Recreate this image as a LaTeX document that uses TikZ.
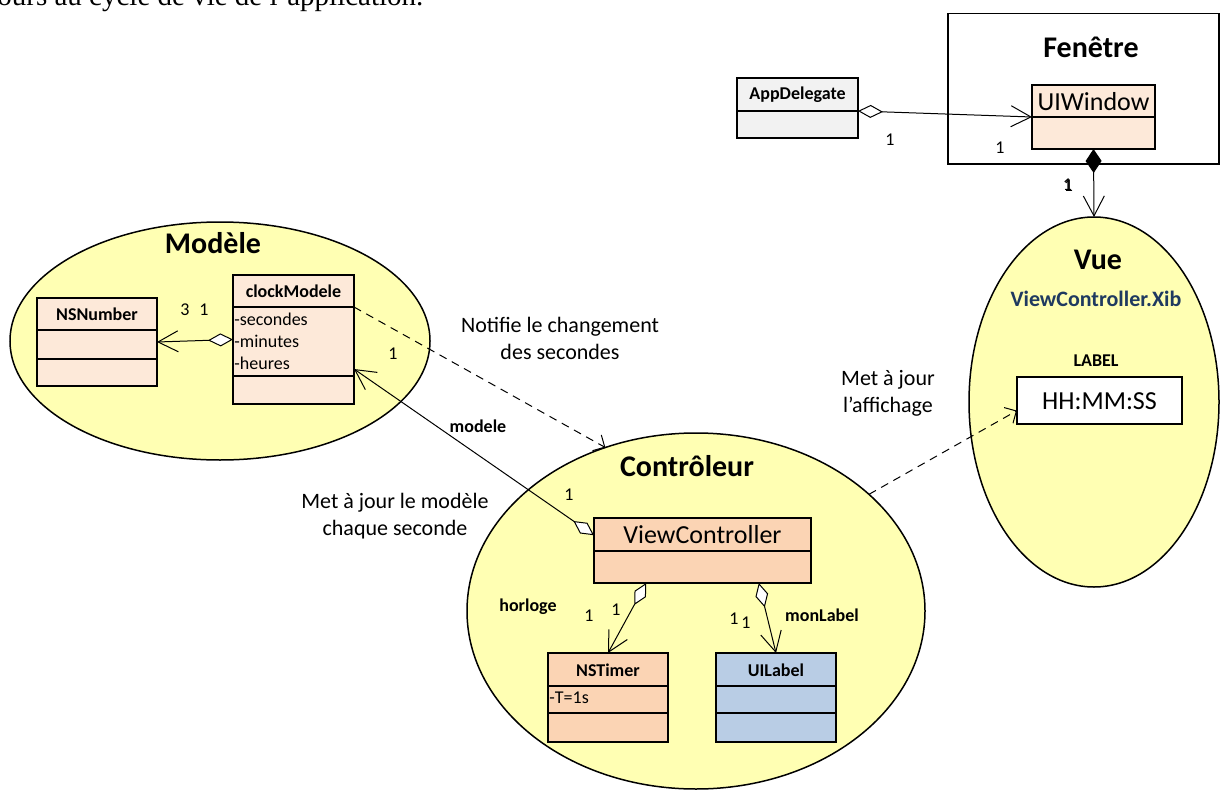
\documentclass[tikz,border=0pt]{standalone}
\usepackage{fontspec}
\setmainfont{Carlito}
\newfontfamily\topserif{Liberation Serif}
\usetikzlibrary{arrows.meta,shapes.geometric}
\definecolor{yel}{HTML}{FFFFB3}
\definecolor{peachL}{HTML}{FDE9D9}
\definecolor{peachD}{HTML}{FBD4B4}
\definecolor{blueC}{HTML}{B9CDE5}
\definecolor{grayC}{HTML}{F2F2F2}
\definecolor{navy}{HTML}{1F3A60}
\tikzset{
  cls/.style={draw, line width=0.75pt, anchor=north west, inner sep=0pt, outer sep=0pt},
  zone/.style={ellipse, draw, line width=0.75pt, fill=yel, inner sep=0pt, outer sep=0pt},
  divl/.style={line width=0.75pt},
  title/.style={font=\bfseries\fontsize{15}{18}\selectfont, inner sep=0pt},
  cname/.style={font=\bfseries\fontsize{9}{11}\selectfont, inner sep=0pt},
  bigname/.style={font=\fontsize{13}{15}\selectfont, inner sep=0pt},
  attr/.style={font=\fontsize{9}{11}\selectfont, inner sep=0pt, anchor=west},
  mult/.style={font=\fontsize{9}{11}\selectfont, inner sep=0pt},
  role/.style={font=\bfseries\fontsize{9}{11}\selectfont, inner sep=0pt},
  note/.style={font=\fontsize{11}{13.5}\selectfont, inner sep=0pt, align=center},
  agg/.style={line width=0.5pt, {Diamond[fill=white,length=12.5pt,width=6.5pt]}-{Straight Barb[length=10pt,width=10.5pt]}},
  comp/.style={line width=0.5pt, {Diamond[fill=black,length=12pt,width=8pt]}-{Straight Barb[length=10pt,width=10.5pt]}},
  dep/.style={line width=0.5pt, dashed, dash pattern=on 4pt off 3pt, -{Straight Barb[length=4.5pt,width=9pt]}},
}
\begin{document}
\begin{tikzpicture}[x=0.5pt,y=-0.5pt]
\useasboundingbox (0,0) rectangle (1220,792);
\begin{scope}
\clip (0,0) rectangle (1220,792);
\node[anchor=base west, inner sep=0pt, font=\topserif\fontsize{14.5}{17}\selectfont] (toptext) at (-3,6) {ours au cycle de vie de l’application.};
\end{scope}

% zones
\node[zone, minimum width=210pt, minimum height=119pt] (zmod) at (220,341) {};
\node[zone, minimum width=125pt, minimum height=185pt] (zvue) at (1094,402) {};
\node[zone, minimum width=229pt, minimum height=178pt] (zctrl) at (696,611) {};
\node[draw, line width=0.75pt, anchor=north west, minimum width=135.5pt, minimum height=75pt, inner sep=0pt] (fen) at (947,13) {};

\node[title] (tfen) at (1091,47) {Fenêtre};
\node[title] (tmod) at (213,243) {Modèle};
\node[title] (tctrl) at (687,466) {Contrôleur};
\node[title] (tvue) at (1098,260) {Vue};
\node[font=\bfseries\fontsize{11}{13}\selectfont, text=navy, inner sep=0pt] (txib) at (1096,299) {ViewController.Xib};
\node[cname] (tlabel) at (1096,361) {LABEL};

% classes
\node[cls, fill=grayC, minimum width=60.5pt, minimum height=30pt] (appdel) at (737,78) {};
\coordinate (appdel-dl) at (737,111); \coordinate (appdel-dr) at (858,111);
\draw[divl] (appdel-dl) -- (appdel-dr);
\node[cname] (appdel-n) at (797.5,95) {AppDelegate};

\node[cls, fill=peachL, minimum width=61.5pt, minimum height=32pt] (uiw) at (1032,85) {};
\coordinate (uiw-dl) at (1032,117); \coordinate (uiw-dr) at (1155,117);
\draw[divl] (uiw-dl) -- (uiw-dr);
\node[bigname] (uiw-n) at (1093.5,102) {UIWindow};

\node[cls, fill=peachL, minimum width=60pt, minimum height=44pt] (nsnum) at (37,298) {};
\draw[divl] (37,330) -- (157,330);
\draw[divl] (37,359) -- (157,359);
\node[cname] (nsnum-n) at (97,314) {NSNumber};

\node[cls, fill=peachL, minimum width=60.5pt, minimum height=64.5pt] (clock) at (233,275) {};
\coordinate (clock-dl) at (233,307); \coordinate (clock-dr) at (354,307);
\draw[divl] (clock-dl) -- (clock-dr);
\draw[divl] (233,376) -- (354,376);
\node[cname] (clock-n) at (293.5,291) {clockModele};
\node[attr] (a1) at (234,319) {-secondes};
\node[attr] (a2) at (234,341) {-minutes};
\node[attr] (a3) at (234,363) {-heures};

\node[cls, fill=peachD, minimum width=108.5pt, minimum height=32.5pt] (vc) at (594,518) {};
\draw[divl] (594,551) -- (811,551);
\node[bigname] (vc-n) at (702.5,535) {ViewController};

\node[cls, fill=peachD, minimum width=60pt, minimum height=44.5pt] (timer) at (548,653) {};
\draw[divl] (548,686) -- (668,686);
\draw[divl] (548,713) -- (668,713);
\node[cname] (timer-n) at (608,670) {NSTimer};
\node[attr] (a4) at (549,698) {-T=1s};

\node[cls, fill=blueC, minimum width=60pt, minimum height=44.5pt] (uilab) at (716,653) {};
\draw[divl] (716,686) -- (836,686);
\draw[divl] (716,713) -- (836,713);
\node[cname] (uilab-n) at (776,670) {UILabel};

\node[cls, fill=white, minimum width=82.5pt, minimum height=23.5pt] (hh) at (1017,377) {};
\node[bigname] (hh-n) at (1099.5,401) {HH:MM:SS};

% connectors
\draw[agg] (appdel-dr) -- (uiw-dl);
\draw[comp] (uiw.south) -- (zvue.north);
\draw[agg] (clock.west) -- (nsnum.east);
\draw[dep] (clock-dr) -- (zctrl.119);
\draw[dep] (zctrl.34) -- (hh.187);
\draw[agg] (vc.172) -- (clock.-26);
\draw[agg] (vc.210) -- (timer.north);
\draw[agg] (vc.-30) -- (uilab.north);

% multiplicities and roles
\node[mult] (m1) at (890,140) {1};
\node[mult] (m2) at (1000,148) {1};
\node[mult] (m3) at (1067.5,185) {1};
\node[mult] (m3b) at (1068.5,185.5) {1};
\node[mult] (m4) at (185,310) {3};
\node[mult] (m5) at (204,310) {1};
\node[mult] (m6) at (393,354) {1};
\node[role] (r1) at (478,426) {modele};
\node[mult] (m7) at (569,495) {1};
\node[role] (r2) at (528,607) {horloge};
\node[mult] (m8) at (589,616) {1};
\node[mult] (m9) at (616,610) {1};
\node[mult] (m10) at (734,619) {1};
\node[mult] (m11) at (746,623) {1};
\node[role] (r3) at (822,615) {monLabel};

% notes
\node[note] (n1) at (560,338) {Notifie le changement\\des secondes};
\node[note] (n2) at (888,393) {Met à jour\\l’affichage};
\node[note] (n3) at (395,516) {Met à jour le modèle\\chaque seconde};
\end{tikzpicture}
\end{document}
